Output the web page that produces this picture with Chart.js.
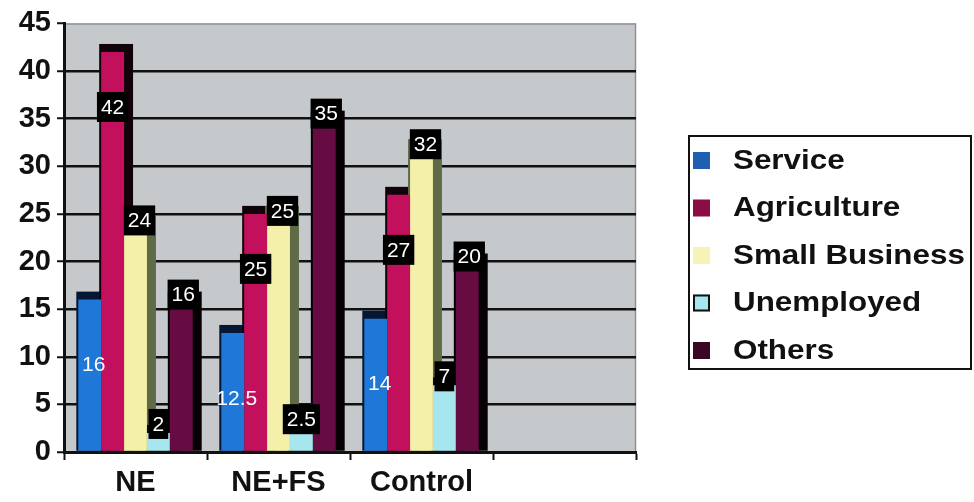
<!DOCTYPE html>
<html>
<head>
<meta charset="utf-8">
<title>Occupation by group</title>
<script src="https://cdn.jsdelivr.net/npm/chart.js@4.4.1/dist/chart.umd.min.js"></script>
<style>
  html, body { margin: 0; padding: 0; background: #ffffff; }
  #wrap { width: 974px; height: 502px; }
</style>
</head>
<body>
<div id="wrap"><canvas id="chart" width="974" height="502"></canvas></div>
<script>
// Groups on the category axis (the fourth slot is left empty)
const groups = ['NE', 'NE+FS', 'Control', ''];

// Series names
const seriesNames = ['Service', 'Agriculture', 'Small Business', 'Unemployed', 'Others'];

// Percentage per group for each occupation
const service     = [16, 12.5, 14];
const agriculture = [42, 25, 27];
const smallBiz    = [24, 25, 32];
const unemployed  = [2, 2.5, 7];
const others      = [16, 35, 20];

// Value axis ticks
const yTicks = [0, 5, 10, 15, 20, 25, 30, 35, 40, 45];

const seriesValues = [service, agriculture, smallBiz, unemployed, others];

// Look of each series: face colour, side (depth) colour, legend swatch, value-label placement
const seriesStyle = [
  { face: '#1f78d8', side: '#071634', swatch: '#1f5fb0', label: { box: false, dx: 4,  dy: 65 } },
  { face: '#c2105c', side: '#12020a', swatch: '#8c0c44', label: { box: true,  dx: 0,  dy: 55 } },
  { face: '#f4f0aa', side: '#5f6a46', swatch: '#f6f3b8', label: { box: true,  dx: 4,  dy: -3 } },
  { face: '#a6e6ee', side: '#0c0c0c', swatch: '#a6e6ee', label: { box: true,  dx: 0,  dy: -9 } },
  { face: '#670c42', side: '#060004', swatch: '#3a0822', label: { box: true,  dx: 2,  dy: -5 } }
];

const AXIS_FONT = 'Liberation Sans, Arial, sans-serif';

// Grey back wall behind the bars
const plotBackground = {
  id: 'plotBackground',
  beforeDraw(chart) {
    const { ctx, chartArea: a } = chart;
    ctx.save();
    ctx.fillStyle = '#c6c9cc';
    ctx.fillRect(a.left + 2, a.top, a.right - a.left - 2, a.bottom - a.top);
    ctx.strokeStyle = '#8e9093';
    ctx.lineWidth = 1.5;
    ctx.beginPath();
    ctx.moveTo(a.left + 2, a.top + 0.5);
    ctx.lineTo(a.right - 0.5, a.top + 0.5);
    ctx.lineTo(a.right - 0.5, a.bottom);
    ctx.stroke();
    ctx.restore();
  }
};

// Dark top and right sides giving each bar its depth
const barDepth = {
  id: 'barDepth',
  beforeDatasetsDraw(chart) {
    const { ctx } = chart;
    ctx.save();
    chart.data.datasets.forEach((ds, i) => {
      const meta = chart.getDatasetMeta(i);
      meta.data.forEach((bar) => {
        const { x, y, base, width } = bar.getProps(['x', 'y', 'base', 'width'], true);
        if (!isFinite(y)) return;
        const left = x - width / 2;
        ctx.fillStyle = seriesStyle[i].side;
        ctx.fillRect(left - 2, y - 8, width + 11, base - y + 8);
      });
    });
    ctx.restore();
  }
};

// Value labels: white text, on a black tag for most series
const valueLabels = {
  id: 'valueLabels',
  afterDatasetsDraw(chart) {
    const { ctx } = chart;
    ctx.save();
    ctx.font = '21px ' + AXIS_FONT;
    ctx.textAlign = 'center';
    ctx.textBaseline = 'middle';
    chart.data.datasets.forEach((ds, i) => {
      const meta = chart.getDatasetMeta(i);
      const st = seriesStyle[i].label;
      meta.data.forEach((bar, j) => {
        const v = ds.data[j];
        if (v === undefined || v === null) return;
        const { x, y } = bar.getProps(['x', 'y'], true);
        const text = String(v);
        const cx = x + st.dx;
        const cy = y + st.dy;
        if (st.box) {
          const w = ctx.measureText(text).width + 8;
          ctx.fillStyle = '#000000';
          ctx.fillRect(cx - w / 2, cy - 15, w, 30);
        }
        ctx.fillStyle = '#ffffff';
        ctx.fillText(text, cx, cy + 1);
      });
    });
    ctx.restore();
  }
};

// Boxed legend to the right of the plot
const boxedLegend = {
  id: 'boxedLegend',
  afterDraw(chart) {
    const { ctx } = chart;
    const bx = 688, by = 135, bw = 284, bh = 235;
    ctx.save();
    ctx.fillStyle = '#ffffff';
    ctx.fillRect(bx, by, bw, bh);
    ctx.strokeStyle = '#111111';
    ctx.lineWidth = 2;
    ctx.strokeRect(bx + 1, by + 1, bw - 2, bh - 2);
    chart.data.datasets.forEach((ds, i) => {
      const cy = 160 + i * 47.5;
      const st = seriesStyle[i];
      ctx.fillStyle = st.swatch;
      ctx.fillRect(693, cy - 8, 17, 17);
      if (i === 3) {
        ctx.strokeStyle = '#111111';
        ctx.lineWidth = 2;
        ctx.strokeRect(694, cy - 7, 15, 15);
      }
      ctx.save();
      ctx.translate(733, cy + 1);
      ctx.scale(1.12, 1);
      ctx.fillStyle = '#111111';
      ctx.font = 'bold 28px ' + AXIS_FONT;
      ctx.textAlign = 'left';
      ctx.textBaseline = 'middle';
      ctx.fillText(ds.label, 0, 0);
      ctx.restore();
    });
    ctx.restore();
  }
};

const datasets = seriesNames.map((name, i) => ({
  label: name,
  data: seriesValues[i],
  backgroundColor: seriesStyle[i].face,
  borderWidth: 0
}));

new Chart(document.getElementById('chart'), {
  type: 'bar',
  data: { labels: groups, datasets },
  options: {
    responsive: false,
    animation: false,
    devicePixelRatio: 1,
    layout: { padding: { top: 17, right: 338, left: 0, bottom: 0 } },
    datasets: { bar: { categoryPercentage: 0.8, barPercentage: 1.0 } },
    plugins: {
      legend: { display: false },
      tooltip: { enabled: false }
    },
    scales: {
      x: {
        offset: true,
        grid: {
          offset: true,
          drawOnChartArea: false,
          drawTicks: true,
          tickLength: 8,
          tickColor: '#111111',
          tickWidth: 2
        },
        border: { display: true, color: '#111111', width: 3 },
        ticks: {
          color: '#111111',
          padding: 6,
          font: { family: AXIS_FONT, size: 29, weight: 'bold' }
        },
        afterFit(scale) { scale.height = 50; }
      },
      y: {
        min: 0,
        max: 45,
        afterBuildTicks(scale) { scale.ticks = yTicks.map(v => ({ value: v })); },
        grid: {
          color: (c) => (c.tick && c.tick.value === 45 ? 'rgba(0,0,0,0)' : '#111111'),
          lineWidth: 2.5,
          tickLength: 7,
          tickColor: '#111111',
          tickWidth: 2
        },
        border: { display: true, color: '#111111', width: 3 },
        ticks: {
          color: '#111111',
          padding: 6,
          font: { family: AXIS_FONT, size: 29, weight: 'bold' }
        },
        afterFit(scale) { scale.width = 64; }
      }
    }
  },
  plugins: [plotBackground, barDepth, valueLabels, boxedLegend]
});
</script>
</body>
</html>
